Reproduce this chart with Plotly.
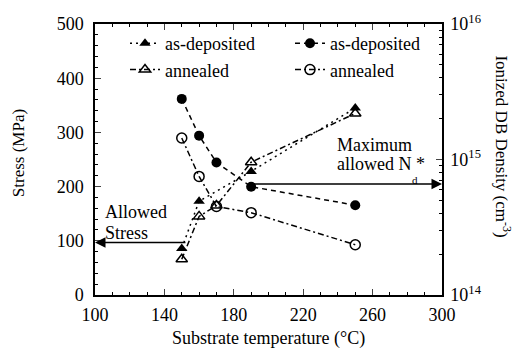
import plotly.graph_objects as go
import numpy as np

# ---- data ----
temp_tri_dep = [150, 160, 190, 250]
stress_dep = [86, 173, 228, 345]
temp_tri_ann = [150, 160, 170, 190, 250]
stress_ann = [66, 145, 165, 245, 335]
temp_circ = [150, 160, 170, 190, 250]
dens_dep = [2.8e15, 1.5e15, 9.5e14, 6.3e14, 4.6e14]
dens_ann = [1.44e15, 7.5e14, 4.5e14, 4.05e14, 2.35e14]
x_ticks = [100, 140, 180, 220, 260, 300]
y_ticks = [0, 100, 200, 300, 400, 500]
y2_ticks = [1e14, 1e15, 1e16]
y2_text = ["10<sup>14</sup>", "10<sup>15</sup>", "10<sup>16</sup>"]
allowed_stress = 97
max_nd = 6.6e14

FONT = "Liberation Serif"
fig = go.Figure()
fig.add_trace(go.Scatter(x=temp_tri_dep, y=stress_dep, name="as-deposited", mode="lines+markers",
                         line=dict(color="black", width=1.5, dash="2px,4px"),
                         marker=dict(symbol="triangle-up", size=10, color="black")))
fig.add_trace(go.Scatter(x=temp_circ, y=dens_dep, name="as-deposited", mode="lines+markers", yaxis="y2",
                         line=dict(color="black", width=1.5, dash="5px,4px"),
                         marker=dict(symbol="circle", size=10, color="black")))
fig.add_trace(go.Scatter(x=temp_tri_ann, y=stress_ann, name="annealed", mode="lines+markers",
                         line=dict(color="black", width=1.5, dash="6px,3px,2px,3px"),
                         marker=dict(symbol="triangle-up-open", size=10, color="black", line=dict(width=1.5))))
fig.add_trace(go.Scatter(x=temp_circ, y=dens_ann, name="annealed", mode="lines+markers", yaxis="y2",
                         line=dict(color="black", width=1.5, dash="6px,3px,2px,3px"),
                         marker=dict(symbol="circle-open", size=10, color="black", line=dict(width=1.5))))

W, H = 513, 352
L, R, T, B = 95, 71, 16, 57
pw, ph = W - L - R, H - T - B

def px(x):
    return (x - L) / pw

def py(y):
    return (H - B - y) / ph

minor_log = [m * 10 ** e for e in (14, 15) for m in range(2, 10)]

fig.update_layout(
    width=W, height=H, margin=dict(l=L, r=R, t=T, b=B),
    paper_bgcolor="white", plot_bgcolor="white",
    font=dict(family=FONT, size=18, color="black"),
    showlegend=True,
    legend=dict(orientation="h", x=px(125), y=py(17), xanchor="left", yanchor="top",
                entrywidth=120, entrywidthmode="pixels", bgcolor="rgba(0,0,0,0)",
                font=dict(family=FONT, size=18), tracegroupgap=0),
    xaxis=dict(range=[100, 300], tickvals=x_ticks, ticks="inside", ticklen=6, tickwidth=1.2,
               showline=True, linecolor="black", linewidth=1.5, mirror="ticks", showgrid=False,
               zeroline=False, tickfont=dict(size=18), ticklabelstandoff=3,
               minor=dict(dtick=10, tick0=100, ticks="inside", ticklen=3, tickcolor="black", showgrid=False)),
    yaxis=dict(range=[0, 500], tickvals=y_ticks, ticks="inside", ticklen=6, tickwidth=1.2,
               showline=True, linecolor="black", linewidth=1.5, showgrid=False, zeroline=False,
               tickfont=dict(size=18), ticklabelstandoff=6,
               minor=dict(dtick=20, tick0=0, ticks="inside", ticklen=3, tickcolor="black", showgrid=False)),
    yaxis2=dict(type="log", range=[14, 16], overlaying="y", side="right", tickvals=y2_ticks, ticktext=y2_text,
                ticks="inside", ticklen=6, tickwidth=1.2, showline=True, linecolor="black", linewidth=1.5,
                showgrid=False, zeroline=False, tickfont=dict(size=18), ticklabelstandoff=3,
                minor=dict(tickvals=minor_log, ticks="inside", ticklen=3, tickcolor="black", showgrid=False)),
)

anns = [
    dict(text="Substrate temperature (°C)", x=0.5, y=py(340), xref="paper", yref="paper",
         showarrow=False, font=dict(size=18), xanchor="center", yanchor="middle"),
    dict(text="Stress (MPa)", x=px(18), y=py(149), xref="paper", yref="paper", textangle=-90,
         showarrow=False, font=dict(size=17), xanchor="center", yanchor="middle"),
    dict(text="Ionized DB Density (cm<sup>-3</sup>)", x=px(503), y=py(142), xref="paper", yref="paper",
         textangle=90, showarrow=False, font=dict(size=17), xanchor="center", yanchor="middle"),
    dict(text="Allowed", x=px(103), y=py(210), xref="paper", yref="paper", showarrow=False,
         xanchor="left", yanchor="middle", font=dict(size=18)),
    dict(text="Stress", x=px(103), y=py(231), xref="paper", yref="paper", showarrow=False,
         xanchor="left", yanchor="middle", font=dict(size=18)),
    dict(text="Maximum", x=px(335), y=py(141), xref="paper", yref="paper", showarrow=False,
         xanchor="left", yanchor="middle", font=dict(size=18)),
    dict(text="allowed N *", x=px(335), y=py(160), xref="paper", yref="paper", showarrow=False,
         xanchor="left", yanchor="middle", font=dict(size=18)),
    dict(text="d", x=px(415), y=py(177), xref="paper", yref="paper", showarrow=False,
         xanchor="center", yanchor="middle", font=dict(size=11)),
    dict(x=100, y=allowed_stress, ax=153, ay=allowed_stress, xref="x", yref="y", axref="x", ayref="y",
         text="", showarrow=True, arrowhead=2, arrowsize=1.4, arrowwidth=1.5, arrowcolor="black"),
    dict(x=300, y=np.log10(max_nd), ax=190, ay=np.log10(max_nd), xref="x", yref="y2", axref="x", ayref="y2",
         text="", showarrow=True, arrowhead=2, arrowsize=1.4, arrowwidth=1.5, arrowcolor="black"),
]
fig.update_layout(annotations=anns)
fig.write_html("out.html")
